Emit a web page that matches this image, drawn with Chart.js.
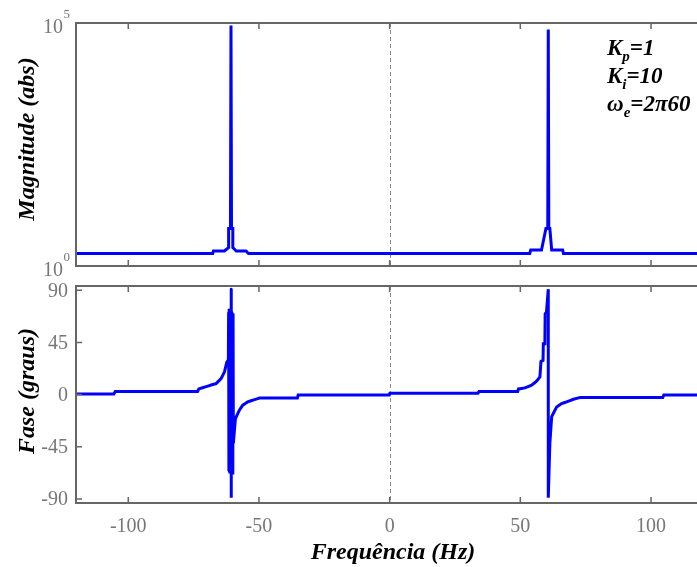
<!DOCTYPE html>
<html>
<head>
<meta charset="utf-8">
<script src="https://cdn.jsdelivr.net/npm/chart.js@4.4.1/dist/chart.umd.min.js"></script>
<style>
  html, body { margin: 0; padding: 0; background: #fff; }
  #wrap { position: relative; width: 697px; height: 567px; }
  canvas { position: absolute; left: 0; }
</style>
</head>
<body>
<div id="wrap">
  <canvas id="magChart" width="697" height="280" style="top:0"></canvas>
  <canvas id="phaseChart" width="697" height="287" style="top:280px"></canvas>
</div>
<script>
// frekvens-akse (Hz)
const xTicks = [-100, -50, 0, 50, 100];
const phaseTicks = [-90, -45, 0, 45, 90];

// magnitude (abs)
const magHz  = [-120, -67.7, -67.4, -63.2, -61.6, -61.6, -60.9, -60.7, -60.5, -60.0, -60.0, -58.7, -54.9, -54.1,
                53.6, 54.0, 58.1, 59.8, 60.5, 60.7, 60.9, 61.3, 62.0, 66.2, 66.5, 117.6];
const magAbs = [1.81, 1.81, 2.04, 2.04, 2.39, 5.9, 5.9, 88700, 5.9, 5.9, 2.39, 2.04, 2.04, 1.81,
                1.81, 2.13, 2.13, 5.9, 5.9, 73500, 5.9, 5.9, 2.13, 2.13, 1.81, 1.81];

// fase (grader)
const phaseHz  = [-120, -105.5, -105, -73.5, -73, -70.2, -68.3, -66.4, -64.5, -63.2, -62.3, -61.7, -61.6, -61.5,
                  -61.4, -61.3, -61.2, -61.1, -61.0, -60.9, -60.8, -60.7, -60.6, -60.6, -60.5, -60.4, -60.3,
                  -60.2, -60.1, -60.0, -59.9, -59.8, -59.0, -57.5, -56.2, -54.3,
                  -51.7, -49.8, -35.3, -35.0, -0.1, 0.1, 33.8, 34.2, 49.0, 49.3, 51.7, 54.3, 56.2, 57.5, 57.9,
                  58.7, 58.8, 59.4, 59.5, 60.0, 60.7, 60.7, 61.3, 62.0, 63.9, 65.8, 67.7, 70.3, 72.8, 104.5,
                  104.9, 117.6];
const phaseDeg = [0.6, 0.6, 2.6, 2.6, 4.9, 6.9, 8.3, 9.5, 13.8, 19.5, 28, 30, 71, -66,
                  74, -67, 73, -68, 72, -68, 73, -67, 91, -89, 72, -68, 71,
                  -69, 70, -69, 70, -42, -20.6, -13.4, -9.1, -6.3,
                  -4.3, -3.0, -3.0, -0.3, -0.3, 1.2, 1.2, 2.6, 2.6, 4.9, 5.8, 8.1, 11.5, 15.2, 28.7,
                  29.6, 43.9, 43.9, 69.7, 71, 91, -89, -42, -19, -10.6, -7.7, -6.3, -4, -2.5, -2.5,
                  -0.3, -0.3];

const axisGrey = '#666666';
const labelGrey = '#777777';
const serif = '"Liberation Serif", "Times New Roman", serif';

// ramme, indadvendte ticks og stiplet nul-linje
const framePlugin = {
  id: 'frame',
  beforeDatasetsDraw(chart) {
    const { ctx, chartArea: a, scales: { x } } = chart;
    const px = Math.round(x.getPixelForValue(0)) + 0.5;
    ctx.save();
    ctx.strokeStyle = '#8a8a8a';
    ctx.lineWidth = 1;
    ctx.setLineDash([4, 3]);
    ctx.beginPath();
    ctx.moveTo(px, a.top);
    ctx.lineTo(px, a.bottom);
    ctx.stroke();
    ctx.restore();
  },
  afterDraw(chart) {
    const { ctx, chartArea: a, scales: { x, y } } = chart;
    ctx.save();
    ctx.strokeStyle = axisGrey;
    ctx.lineWidth = 2;
    ctx.beginPath();
    ctx.moveTo(a.right, a.top);
    ctx.lineTo(a.left, a.top);
    ctx.lineTo(a.left, a.bottom);
    ctx.lineTo(a.right, a.bottom);
    ctx.stroke();
    ctx.lineWidth = 1.5;
    ctx.beginPath();
    x.ticks.forEach(t => {
      const p = x.getPixelForValue(t.value);
      ctx.moveTo(p, a.bottom); ctx.lineTo(p, a.bottom - 6);
      ctx.moveTo(p, a.top); ctx.lineTo(p, a.top + 6);
    });
    y.ticks.forEach(t => {
      const p = y.getPixelForValue(t.value);
      ctx.moveTo(a.left, p); ctx.lineTo(a.left + 6, p);
    });
    ctx.stroke();
    ctx.restore();
  }
};

function yTitle(ctx, text, cx, cy) {
  ctx.save();
  ctx.translate(cx, cy);
  ctx.rotate(-Math.PI / 2);
  ctx.font = 'bold italic 24px ' + serif;
  ctx.fillStyle = '#000';
  ctx.textAlign = 'center';
  ctx.textBaseline = 'alphabetic';
  ctx.fillText(text, 0, 0);
  ctx.restore();
}

// tekst med sænket/hævet del: parts = [[tekst, 'n'|'sub'|'sup'], ...]
function richText(ctx, parts, x, y, size, color, style) {
  let cx = x;
  parts.forEach(([t, kind]) => {
    const s = kind === 'n' ? size : Math.round(size * 0.65);
    const dy = kind === 'sub' ? size * 0.28 : kind === 'sup' ? -size * 0.45 : 0;
    ctx.font = style + s + 'px ' + serif;
    ctx.fillStyle = color;
    ctx.textAlign = 'left';
    ctx.textBaseline = 'alphabetic';
    ctx.fillText(t, cx, y + dy);
    cx += ctx.measureText(t).width;
  });
}

const magExtras = {
  id: 'magExtras',
  afterDraw(chart) {
    const { ctx, scales: { y } } = chart;
    yTitle(ctx, 'Magnitude (abs)', 34, 139);
    // log-tick labels 10^5 og 10^0
    [[1e5, '5'], [1, '0']].forEach(([v, e]) => {
      const p = y.getPixelForValue(v);
      ctx.font = '20px ' + serif;
      ctx.fillStyle = labelGrey;
      ctx.textAlign = 'right';
      ctx.textBaseline = 'alphabetic';
      ctx.fillText('10', 63, p + 10);
      ctx.font = '13px ' + serif;
      ctx.textAlign = 'left';
      ctx.fillText(e, 63.5, p - 5);
    });
    richText(ctx, [['K', 'n'], ['p', 'sub'], ['=1', 'n']], 607, 55, 23, '#000', 'bold italic ');
    richText(ctx, [['K', 'n'], ['i', 'sub'], ['=10', 'n']], 607, 83, 23, '#000', 'bold italic ');
    richText(ctx, [['\u03c9', 'n'], ['e', 'sub'], ['=2\u03c060', 'n']], 607, 111, 23, '#000', 'bold italic ');
  }
};

const phaseExtras = {
  id: 'phaseExtras',
  afterDraw(chart) {
    const { ctx, scales: { y } } = chart;
    yTitle(ctx, 'Fase (graus)', 34, 111);
    ctx.save();
    // fase tick labels
    ctx.font = '20px ' + serif;
    ctx.fillStyle = labelGrey;
    ctx.textAlign = 'right';
    ctx.textBaseline = 'middle';
    phaseTicks.forEach(v => ctx.fillText(String(v), 68, y.getPixelForValue(v) + 1));
    ctx.font = 'bold italic 24px ' + serif;
    ctx.fillStyle = '#000';
    ctx.textAlign = 'center';
    ctx.textBaseline = 'alphabetic';
    ctx.fillText('Frequ\u00eancia (Hz)', 393, 279);
    ctx.restore();
  }
};

// lille tension slår Chart.js' fast-path fra, så de tætte punkter ved 60 Hz tegnes fuldt
const lineStyle = {
  borderColor: '#0000ff',
  borderWidth: 3,
  pointRadius: 0,
  tension: 0.0001,
  fill: false
};

const xScale = (showLabels, height) => ({
  type: 'linear',
  min: -120,
  max: 117.6,
  grid: { display: false, drawTicks: false },
  border: { display: false },
  afterBuildTicks(scale) { scale.ticks = xTicks.map(v => ({ value: v })); },
  afterFit(scale) { scale.height = height; },
  ticks: {
    display: showLabels,
    padding: 12,
    color: labelGrey,
    font: { family: serif, size: 20 },
    callback: v => String(v)
  }
});

new Chart(document.getElementById('magChart'), {
  type: 'line',
  data: {
    datasets: [{ ...lineStyle, data: magHz.map((f, i) => ({ x: f, y: magAbs[i] })) }]
  },
  options: {
    responsive: false,
    animation: false,
    devicePixelRatio: 1,
    layout: { padding: { top: 23, right: 0, bottom: 0, left: 0 } },
    plugins: { legend: { display: false }, tooltip: { enabled: false } },
    scales: {
      x: xScale(false, 14),
      y: {
        type: 'logarithmic',
        min: 1,
        max: 1e5,
        grid: { display: false, drawTicks: false },
        border: { display: false },
        afterBuildTicks(scale) { scale.ticks = [{ value: 1 }, { value: 1e5 }]; },
        afterFit(scale) { scale.width = 76; },
        ticks: { display: false }
      }
    }
  },
  plugins: [framePlugin, magExtras]
});

new Chart(document.getElementById('phaseChart'), {
  type: 'line',
  data: {
    datasets: [{ ...lineStyle, data: phaseHz.map((f, i) => ({ x: f, y: phaseDeg[i] })) }]
  },
  options: {
    responsive: false,
    animation: false,
    devicePixelRatio: 1,
    layout: { padding: { top: 6, right: 0, bottom: 0, left: 0 } },
    plugins: { legend: { display: false }, tooltip: { enabled: false } },
    scales: {
      x: xScale(true, 64),
      y: {
        type: 'linear',
        min: -93.5,
        max: 93.7,
        grid: { display: false, drawTicks: false },
        border: { display: false },
        afterBuildTicks(scale) { scale.ticks = phaseTicks.map(v => ({ value: v })); },
        afterFit(scale) { scale.width = 76; },
        ticks: { display: false }
      }
    }
  },
  plugins: [framePlugin, phaseExtras]
});
</script>
</body>
</html>
